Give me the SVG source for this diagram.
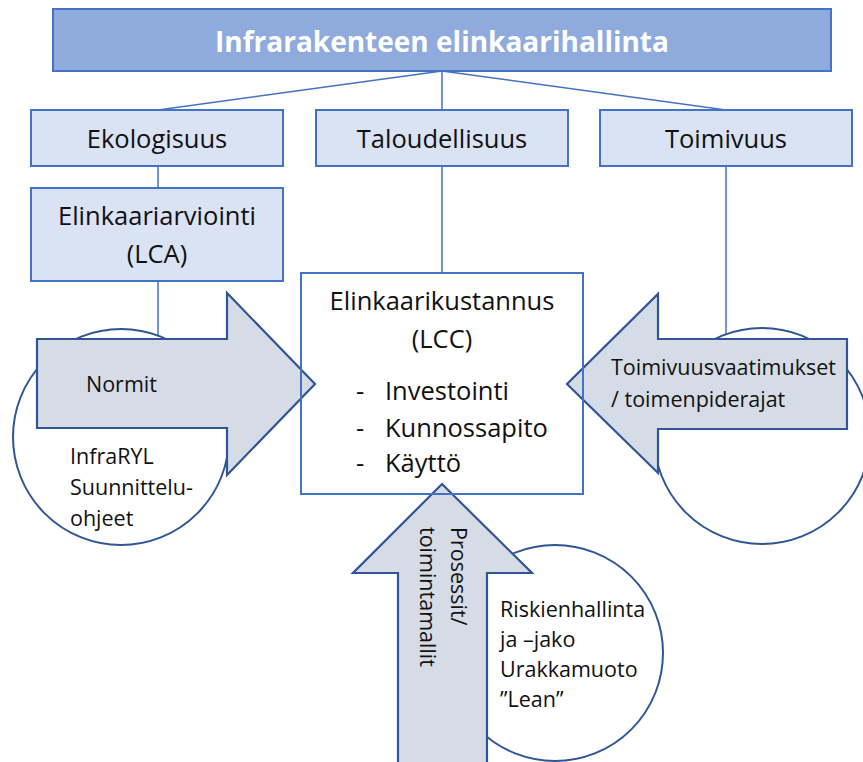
<svg xmlns="http://www.w3.org/2000/svg" width="863" height="762" viewBox="0 0 863 762">
<style>
  .box{fill:#DAE3F3;stroke:#4472C4;stroke-width:2}
  .title{fill:#8FAADC;stroke:#4472C4;stroke-width:2}
  .con{stroke:#4472C4;stroke-width:1.5;fill:none}
  .circ{fill:#FFFFFF;stroke:#2F5597;stroke-width:2}
  .arrow{fill:#D6DCE5;stroke:#2F5597;stroke-width:2.2;stroke-linejoin:miter}
  text{font-family:"Open Sans","Noto Sans","Liberation Sans",sans-serif;fill:#111111}
  .big{font-size:25.5px}
  .small{font-size:21.5px}
  .mid{text-anchor:middle}
</style>
<rect width="863" height="762" fill="#FFFFFF"/>
<g id="connectors">
  <line class="con" x1="442" y1="71" x2="158" y2="110"/>
  <line class="con" x1="442" y1="71" x2="442" y2="110"/>
  <line class="con" x1="442" y1="71" x2="726" y2="110"/>
  <line class="con" x1="158" y1="166" x2="158" y2="188"/>
  <line class="con" x1="158" y1="281" x2="158" y2="342"/>
  <line class="con" x1="442" y1="166" x2="442" y2="273"/>
  <line class="con" x1="726" y1="166" x2="726" y2="336"/>
</g>
<g id="title">
  <rect class="title" x="53" y="9" width="778" height="62"/>
  <text x="442" y="52" class="mid" style="font-size:28px;font-weight:bold;fill:#FFFFFF">Infrarakenteen elinkaarihallinta</text>
</g>
<g id="ekologisuus">
  <rect class="box" x="31" y="110" width="252" height="56"/>
  <text x="157" y="148" class="big mid">Ekologisuus</text>
</g>
<g id="taloudellisuus">
  <rect class="box" x="316" y="110" width="252" height="56"/>
  <text x="442" y="148" class="big mid">Taloudellisuus</text>
</g>
<g id="toimivuus">
  <rect class="box" x="600" y="110" width="252" height="56"/>
  <text x="726" y="148" class="big mid">Toimivuus</text>
</g>
<g id="lca">
  <rect class="box" x="31" y="188" width="252" height="93"/>
  <text x="157" y="225" class="big mid">Elinkaariarviointi</text>
  <text x="157" y="263" class="big mid">(LCA)</text>
</g>
<g id="circle-left">
  <circle class="circ" cx="121" cy="437" r="108"/>
  <text x="70" y="464" class="small">InfraRYL</text>
  <text x="70" y="495" class="small">Suunnittelu-</text>
  <text x="70" y="526" class="small">ohjeet</text>
</g>
<g id="circle-right">
  <circle class="circ" cx="762" cy="436" r="108"/>
</g>
<g id="circle-bottom">
  <circle class="circ" cx="555" cy="653" r="108"/>
  <text x="500" y="617" class="small">Riskienhallinta</text>
  <text x="500" y="647" class="small">ja –jako</text>
  <text x="500" y="677" class="small">Urakkamuoto</text>
  <text x="500" y="707" class="small">”Lean”</text>
</g>
<g id="lcc-fill">
  <rect x="301" y="273" width="282" height="221" fill="#FFFFFF"/>
</g>
<g id="arrow-normit">
  <polygon class="arrow" points="37,339 227,339 227,293 315,384 227,475 227,428 37,428"/>
  <text x="86" y="392" class="small">Normit</text>
</g>
<g id="arrow-toimivuus">
  <polygon class="arrow" points="847,339 658,339 658,294 567,384 658,473 658,429 847,429"/>
  <text x="611" y="375" class="small">Toimivuusvaatimukset</text>
  <text x="611" y="407" class="small">/ toimenpiderajat</text>
</g>
<g id="arrow-prosessit">
  <polygon class="arrow" points="442,484 532,573 487,573 487,770 398,770 398,573 353,573"/>
  <g transform="translate(451,527) rotate(90)">
    <text x="0" y="0" class="small">Prosessit/</text>
    <text x="0" y="31" class="small">toimintamallit</text>
  </g>
</g>
<g id="lcc">
  <rect x="301" y="273" width="282" height="221" fill="none" stroke="#4472C4" stroke-width="2"/>
  <text x="442" y="310" class="big mid">Elinkaarikustannus</text>
  <text x="442" y="348" class="big mid">(LCC)</text>
  <text x="356" y="400" class="big">-</text>
  <text x="385" y="400" class="big">Investointi</text>
  <text x="356" y="437" class="big">-</text>
  <text x="385" y="437" class="big">Kunnossapito</text>
  <text x="356" y="472" class="big">-</text>
  <text x="385" y="472" class="big">Käyttö</text>
</g>
</svg>
